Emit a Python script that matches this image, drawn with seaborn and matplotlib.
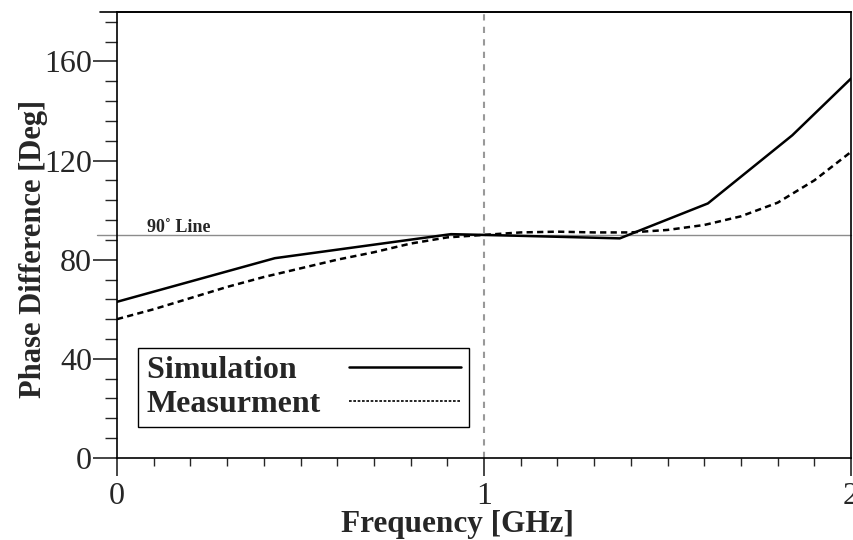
import numpy as np
import pandas as pd
import matplotlib
matplotlib.use('Agg')
import matplotlib.pyplot as plt
import seaborn as sns
from matplotlib.lines import Line2D
from matplotlib.ticker import MultipleLocator

sns.set_style('ticks')
plt.rcParams['font.family'] = ['Liberation Serif', 'DejaVu Serif']

# Simulation curve (piecewise)
sim_freq = [0.0, 0.43, 0.91, 1.0, 1.37, 1.61, 1.84, 2.0]
sim_phase = [63.0, 80.6, 90.3, 90.0, 88.6, 102.7, 130.2, 153.1]

# Measurement curve
meas_freq = [0.0, 0.1, 0.2, 0.3, 0.4, 0.5, 0.6, 0.7, 0.8, 0.9, 1.0,
             1.1, 1.2, 1.3, 1.4, 1.5, 1.6, 1.7, 1.8, 1.9, 2.0]
meas_phase = [56.0, 60.0, 64.5, 69.0, 73.0, 76.5, 80.0, 83.0, 86.5, 89.0, 90.0,
              91.0, 91.3, 91.0, 91.0, 92.0, 94.0, 97.5, 103.0, 112.0, 123.5]

sim = pd.DataFrame({'Frequency': sim_freq, 'Phase': sim_phase})
meas = pd.DataFrame({'Frequency': meas_freq, 'Phase': meas_phase})

fig = plt.figure(figsize=(8.54, 5.40), dpi=100)
ax = fig.add_axes([0.137, 0.152, 0.8595, 0.826])

# reference lines
ax.axvline(1.0, color='#999999', lw=1.5, linestyle=(0, (3, 3)), zorder=1)
ax.axhline(90, xmin=-0.027, xmax=1.0, color='#8c8c8c', lw=1.0, clip_on=False, zorder=1)
ax.axhline(180, xmin=-0.023, xmax=1.0, color='black', lw=1.2, clip_on=False, zorder=1)

sns.lineplot(data=sim, x='Frequency', y='Phase', ax=ax, color='black', lw=1.8)
sns.lineplot(data=meas, x='Frequency', y='Phase', ax=ax, color='black', lw=1.8,
             linestyle=(0, (2.5, 1.7)))

ax.text(0.083, 91.3, '90˚ Line', fontsize=13, fontweight='bold')

ax.set_xlim(0, 2)
ax.set_ylim(0, 180)
ax.xaxis.set_major_locator(MultipleLocator(1))
ax.xaxis.set_minor_locator(MultipleLocator(0.1))
ax.yaxis.set_major_locator(MultipleLocator(40))
ax.yaxis.set_minor_locator(MultipleLocator(8))

ax.tick_params(axis='x', which='major', length=13, width=1.2, labelsize=23, pad=4)
ax.tick_params(axis='x', which='minor', length=6, width=1.0)
ax.tick_params(axis='y', which='major', length=17, width=1.2, labelsize=23, pad=1)
ax.tick_params(axis='y', which='minor', length=8.5, width=1.0)

for s in ax.spines.values():
    s.set_linewidth(1.2)
    s.set_color('black')

ax.set_xlabel('Frequency [GHz]', fontsize=22.5, fontweight='bold')
ax.set_ylabel('Phase Difference [Deg]', fontsize=22, fontweight='bold')
ax.xaxis.set_label_coords(0.464, -0.116)
ax.yaxis.set_label_coords(-0.094, 0.469)

handles = [Line2D([], [], color='black', lw=1.8),
           Line2D([], [], color='black', lw=1.2, linestyle=(0, (1.6, 1.0)))]
leg = ax.legend(handles, ['Simulation   ', 'Measurment'], loc='lower left',
                bbox_to_anchor=(0.029, 0.0695), markerfirst=False,
                prop={'size': 23, 'weight': 'bold'}, frameon=True, fancybox=False,
                framealpha=1, edgecolor='black', borderpad=0.25, handlelength=3.5,
                handletextpad=0.9, labelspacing=0.14, borderaxespad=0)
leg.get_frame().set_linewidth(1.0)

fig.savefig('out.png', dpi=100)
